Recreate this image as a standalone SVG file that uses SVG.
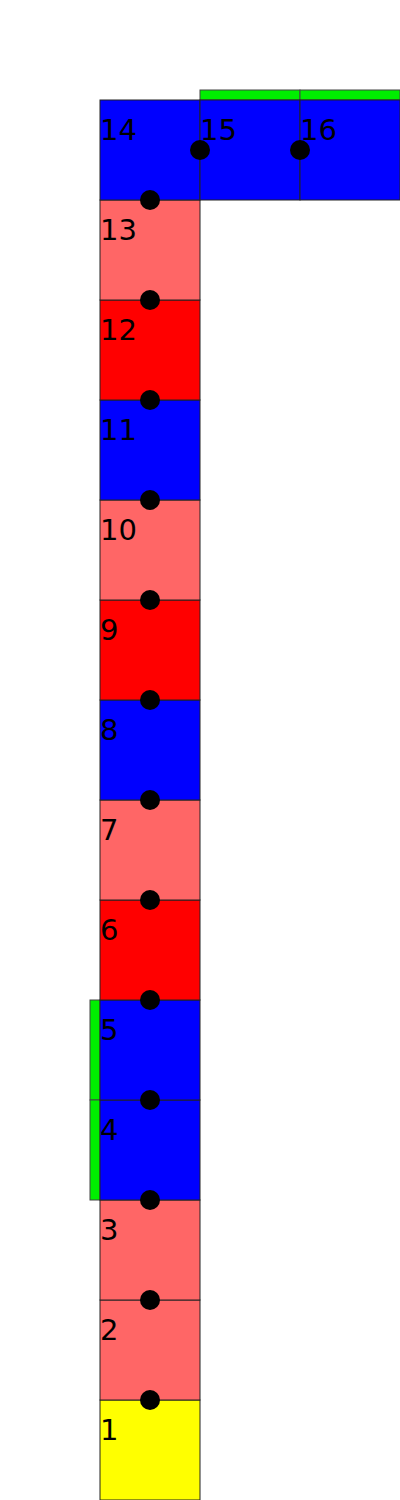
<svg xmlns="http://www.w3.org/2000/svg" width="400" height="1500" viewBox="0 0 400 1500">
<style>
.sq{stroke:#222;stroke-width:1}
.b{fill:#0000ff}.p{fill:#ff6666}.r{fill:#ff0000}.y{fill:#ffff00}
.g{fill:#00ee00;stroke:#444;stroke-width:1}
.lbl{font-family:"DejaVu Sans",sans-serif;font-size:29px;fill:#000}
.dot{fill:#000}
</style>
<rect width="400" height="1500" fill="#fff"/>
<g id="markers">
<rect class="g" x="200" y="90" width="100" height="10"/>
<rect class="g" x="300" y="90" width="100" height="10"/>
<rect class="g" x="90" y="1000" width="10" height="100"/>
<rect class="g" x="90" y="1100" width="10" height="100"/>
</g>
<g id="n1"><rect class="sq y" x="100" y="1400" width="100" height="100"/><text class="lbl" x="100" y="1440">1</text></g>
<g id="n2"><rect class="sq p" x="100" y="1300" width="100" height="100"/><text class="lbl" x="100" y="1340">2</text></g>
<g id="n3"><rect class="sq p" x="100" y="1200" width="100" height="100"/><text class="lbl" x="100" y="1240">3</text></g>
<g id="n4"><rect class="sq b" x="100" y="1100" width="100" height="100"/><text class="lbl" x="100" y="1140">4</text></g>
<g id="n5"><rect class="sq b" x="100" y="1000" width="100" height="100"/><text class="lbl" x="100" y="1040">5</text></g>
<g id="n6"><rect class="sq r" x="100" y="900" width="100" height="100"/><text class="lbl" x="100" y="940">6</text></g>
<g id="n7"><rect class="sq p" x="100" y="800" width="100" height="100"/><text class="lbl" x="100" y="840">7</text></g>
<g id="n8"><rect class="sq b" x="100" y="700" width="100" height="100"/><text class="lbl" x="100" y="740">8</text></g>
<g id="n9"><rect class="sq r" x="100" y="600" width="100" height="100"/><text class="lbl" x="100" y="640">9</text></g>
<g id="n10"><rect class="sq p" x="100" y="500" width="100" height="100"/><text class="lbl" x="100" y="540">10</text></g>
<g id="n11"><rect class="sq b" x="100" y="400" width="100" height="100"/><text class="lbl" x="100" y="440">11</text></g>
<g id="n12"><rect class="sq r" x="100" y="300" width="100" height="100"/><text class="lbl" x="100" y="340">12</text></g>
<g id="n13"><rect class="sq p" x="100" y="200" width="100" height="100"/><text class="lbl" x="100" y="240">13</text></g>
<g id="n14"><rect class="sq b" x="100" y="100" width="100" height="100"/><text class="lbl" x="100" y="140">14</text></g>
<g id="n15"><rect class="sq b" x="200" y="100" width="100" height="100"/><text class="lbl" x="200" y="140">15</text></g>
<g id="n16"><rect class="sq b" x="300" y="100" width="100" height="100"/><text class="lbl" x="300" y="140">16</text></g>
<g id="connectors">
<circle class="dot" cx="150" cy="1400" r="10"/>
<circle class="dot" cx="150" cy="1300" r="10"/>
<circle class="dot" cx="150" cy="1200" r="10"/>
<circle class="dot" cx="150" cy="1100" r="10"/>
<circle class="dot" cx="150" cy="1000" r="10"/>
<circle class="dot" cx="150" cy="900" r="10"/>
<circle class="dot" cx="150" cy="800" r="10"/>
<circle class="dot" cx="150" cy="700" r="10"/>
<circle class="dot" cx="150" cy="600" r="10"/>
<circle class="dot" cx="150" cy="500" r="10"/>
<circle class="dot" cx="150" cy="400" r="10"/>
<circle class="dot" cx="150" cy="300" r="10"/>
<circle class="dot" cx="150" cy="200" r="10"/>
<circle class="dot" cx="200" cy="150" r="10"/>
<circle class="dot" cx="300" cy="150" r="10"/>
</g>
</svg>
